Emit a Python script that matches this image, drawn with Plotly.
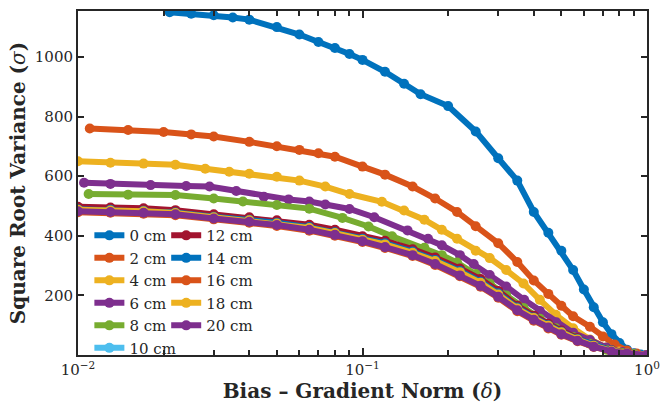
import plotly.graph_objects as go

# ---------------- data ----------------
x_0cm = [0.021, 0.025, 0.03, 0.035, 0.04, 0.05, 0.06, 0.07, 0.08, 0.09, 0.1, 0.12, 0.14, 0.16,
         0.2, 0.25, 0.3, 0.35, 0.4, 0.45, 0.5, 0.55, 0.6, 0.65, 0.7, 0.75, 0.8, 0.85, 0.9, 0.95, 1.0]
y_0cm = [1150, 1145, 1140, 1132, 1125, 1100, 1075, 1050, 1030, 1010, 990, 950, 910, 875,
         835, 750, 660, 585, 480, 410, 350, 285, 220, 160, 110, 70, 40, 18, 6, 2, 0]

x_2cm = [0.011, 0.015, 0.02, 0.025, 0.03, 0.04, 0.05, 0.06, 0.07, 0.08, 0.1, 0.12, 0.15, 0.18,
         0.215, 0.25, 0.3, 0.35, 0.4, 0.45, 0.5, 0.55, 0.63, 0.7, 0.77, 0.85, 0.92, 1.0]
y_2cm = [760, 755, 748, 740, 733, 715, 700, 688, 677, 665, 632, 605, 565, 525,
         480, 432, 375, 312, 250, 205, 165, 130, 95, 62, 35, 15, 5, 0]

x_4cm = [0.01, 0.013, 0.017, 0.022, 0.028, 0.034, 0.04, 0.05, 0.06, 0.074, 0.09, 0.117, 0.14,
         0.165, 0.19, 0.215, 0.25, 0.28, 0.32, 0.368, 0.42, 0.478, 0.55, 0.63, 0.72, 0.8, 0.9, 1.0]
y_4cm = [650, 645, 642, 638, 625, 615, 608, 598, 585, 565, 540, 514, 485,
         454, 420, 390, 350, 325, 285, 240, 185, 135, 90, 52, 25, 12, 3, 0]

x_6cm = [0.0105, 0.013, 0.018, 0.024, 0.029, 0.036, 0.045, 0.055, 0.065, 0.074, 0.09, 0.11, 0.144,
         0.17, 0.19, 0.22, 0.246, 0.28, 0.32, 0.37, 0.42, 0.48, 0.55, 0.63, 0.72, 0.82, 0.9, 1.0]
y_6cm = [578, 574, 570, 567, 565, 550, 531, 522, 515, 505, 490, 462, 418,
         390, 368, 335, 305, 268, 230, 185, 148, 110, 75, 50, 25, 10, 4, 0]

x_8cm = [0.0109, 0.015, 0.022, 0.03, 0.038, 0.05, 0.065, 0.085, 0.105, 0.127, 0.165, 0.19, 0.215,
         0.25, 0.28, 0.32, 0.368, 0.42, 0.478, 0.55, 0.63, 0.72, 0.82, 0.9, 1.0]
y_8cm = [540, 538, 537, 525, 515, 503, 491, 460, 431, 398, 360, 335, 310,
         272, 240, 200, 158, 122, 90, 60, 38, 18, 7, 3, 0]

x_far = [0.01, 0.013, 0.017, 0.022, 0.03, 0.04, 0.05, 0.065, 0.08, 0.1, 0.12, 0.15, 0.18, 0.22,
         0.26, 0.3, 0.35, 0.4, 0.45, 0.5, 0.57, 0.65, 0.75, 0.85, 1.0]
y_10cm = [492, 490, 488, 482, 468, 458, 448, 433, 416, 394, 379, 351, 323, 286, 250, 211, 162, 129, 102, 80, 55, 34, 16, 6, 0]
y_12cm = [497, 495, 492, 486, 472, 462, 452, 437, 420, 398, 383, 355, 327, 290, 255, 215, 165, 132, 105, 82, 57, 35, 17, 7, 0]
y_14cm = [489, 487, 484, 478, 464, 454, 444, 429, 412, 390, 375, 347, 319, 282, 246, 207, 159, 126, 100, 78, 54, 33, 15, 6, 0]
y_16cm = [479, 477, 474, 469, 455, 444, 433, 417, 400, 379, 359, 332, 302, 264, 229, 192, 147, 115, 89, 68, 46, 27, 12, 5, 0]
y_18cm = [487, 485, 482, 476, 462, 452, 441, 426, 409, 387, 371, 343, 315, 278, 242, 203, 156, 124, 98, 76, 52, 31, 14, 6, 0]
y_20cm = [482, 480, 477, 472, 458, 447, 436, 420, 403, 382, 362, 335, 305, 267, 232, 195, 150, 118, 92, 70, 48, 28, 12, 5, 0]

series_names = ["0 cm", "2 cm", "4 cm", "6 cm", "8 cm", "10 cm",
                "12 cm", "14 cm", "16 cm", "18 cm", "20 cm"]
series_x = [x_0cm, x_2cm, x_4cm, x_6cm, x_8cm, x_far, x_far, x_far, x_far, x_far, x_far]
series_y = [y_0cm, y_2cm, y_4cm, y_6cm, y_8cm, y_10cm, y_12cm, y_14cm, y_16cm, y_18cm, y_20cm]

colors = ["#0072BD", "#D95319", "#EDB120", "#7E2F8E", "#77AC30", "#4DBEEE", "#A2142F"]

x_tickvals = [0.01, 0.1, 1]
x_ticktext = ["10<sup>\u22122</sup>", "10<sup>\u22121</sup>", "10<sup>0</sup>"]
y_tickvals = [200, 400, 600, 800, 1000]

FONT = "DejaVu Serif"
INK = "#262626"

fig = go.Figure()
for i, (name, xs, ys) in enumerate(zip(series_names, series_x, series_y)):
    fig.add_trace(go.Scatter(
        x=xs, y=ys, name=name, mode="lines+markers",
        line=dict(color=colors[i % 7], width=6),
        marker=dict(color=colors[i % 7], size=10),
        legend="legend" if i < 6 else "legend2",
    ))

minor_vals = [0.02, 0.03, 0.04, 0.05, 0.06, 0.07, 0.08, 0.09,
              0.2, 0.3, 0.4, 0.5, 0.6, 0.7, 0.8, 0.9]

axis_common = dict(
    showline=True, linecolor=INK, linewidth=2, mirror="allticks",
    ticks="inside", tickcolor=INK, tickwidth=2, showgrid=False, zeroline=False,
    tickfont=dict(family=FONT, size=15, color=INK),
)

fig.update_layout(
    width=669, height=414,
    margin=dict(l=78, r=13, t=9, b=59),
    paper_bgcolor="white", plot_bgcolor="white",
    xaxis=dict(
        type="log", range=[-2, 0], tickmode="array", tickvals=x_tickvals, ticktext=x_ticktext,
        ticklen=7,
        minor=dict(tickmode="array", tickvals=minor_vals, ticks="inside", ticklen=5,
                   tickcolor=INK, tickwidth=2, showgrid=False),
        title=dict(text="<b>Bias \u2013 Gradient Norm (</b><i>\u03b4</i><b>)</b>",
                   font=dict(family=FONT, size=20, color=INK), standoff=2),
        **axis_common,
    ),
    yaxis=dict(
        range=[0, 1154], tickmode="array", tickvals=y_tickvals, ticklen=6,
        title=dict(text="<b>Square Root Variance (</b><i>\u03c3</i><b>)</b>",
                   font=dict(family=FONT, size=20, color=INK), standoff=4),
        **axis_common,
    ),
    legend=dict(x=0.02, y=0.395, xanchor="left", yanchor="top", bgcolor="rgba(0,0,0,0)",
                font=dict(family=FONT, size=15, color=INK), tracegroupgap=0,
                itemwidth=30),
    legend2=dict(x=0.155, y=0.395, xanchor="left", yanchor="top", bgcolor="rgba(0,0,0,0)",
                 font=dict(family=FONT, size=15, color=INK), tracegroupgap=0,
                 itemwidth=30),
    showlegend=True,
)

fig.write_html("out.html")
